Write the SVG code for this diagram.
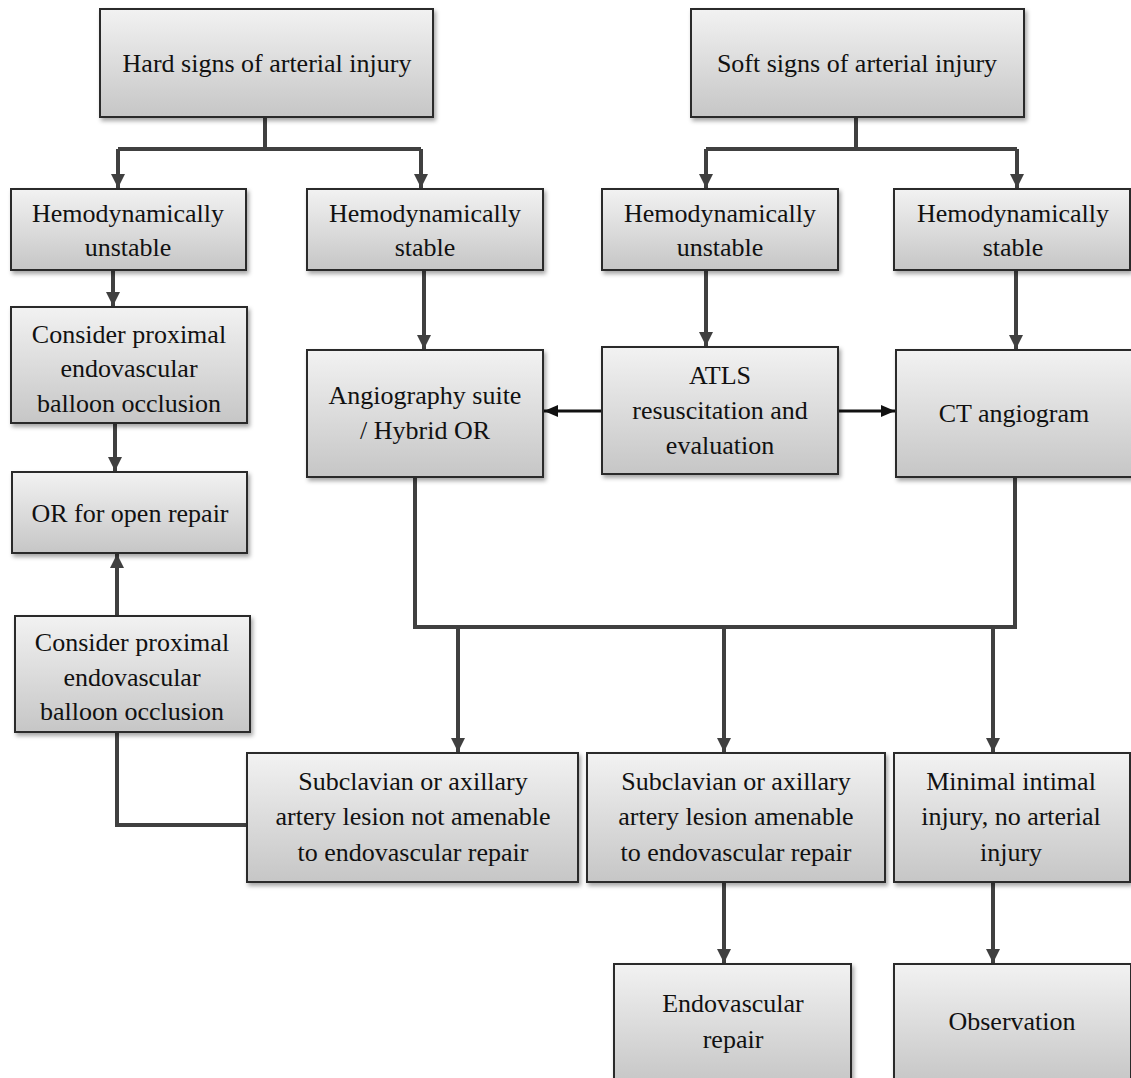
<svg xmlns="http://www.w3.org/2000/svg" width="1131" height="1078" viewBox="0 0 1131 1078">
<style>
.box{fill:url(#g);stroke:#2a2a2a;stroke-width:2;filter:url(#sh)}
.t{font-family:"Liberation Serif","Times New Roman",serif;font-size:26px;fill:#111;text-anchor:middle}
.c{fill:none;stroke:#404040;stroke-width:4}
.k{fill:none;stroke:#111;stroke-width:3}
</style>
<defs>
<linearGradient id="g" x1="0" y1="0" x2="0" y2="1">
<stop offset="0" stop-color="#f2f2f2"/>
<stop offset="1" stop-color="#c6c6c6"/>
</linearGradient>
<filter id="sh" x="-5%" y="-5%" width="115%" height="120%">
<feDropShadow dx="2" dy="3" stdDeviation="2" flood-color="#000" flood-opacity="0.35"/>
</filter>
<marker id="a" markerUnits="userSpaceOnUse" markerWidth="16" markerHeight="16" refX="14" refY="8" orient="auto">
<path d="M0,1 L14,8 L0,15 Z" fill="#404040"/>
</marker>
<marker id="b" markerUnits="userSpaceOnUse" markerWidth="16" markerHeight="16" refX="14" refY="7" orient="auto">
<path d="M0,1 L14,7 L0,13 Z" fill="#111"/>
</marker>
</defs>
<rect width="1131" height="1078" fill="#fff"/>
<g id="connectors">
<path class="c" d="M265,117 V149 M118,149 H421"/>
<path class="c" d="M118,149 V188" marker-end="url(#a)"/>
<path class="c" d="M421,149 V188" marker-end="url(#a)"/>
<path class="c" d="M856,117 V149 M706,149 H1017"/>
<path class="c" d="M706,149 V188" marker-end="url(#a)"/>
<path class="c" d="M1017,149 V188" marker-end="url(#a)"/>
<path class="c" d="M113,270 V306" marker-end="url(#a)"/>
<path class="c" d="M115,423 V471" marker-end="url(#a)"/>
<path class="c" d="M424,270 V349" marker-end="url(#a)"/>
<path class="c" d="M706,270 V346" marker-end="url(#a)"/>
<path class="c" d="M1016,270 V349" marker-end="url(#a)"/>
<path class="k" d="M602,411 H544" marker-end="url(#b)"/>
<path class="k" d="M838,411 H895" marker-end="url(#b)"/>
<path class="c" d="M415,477 V627 H1015 V477"/>
<path class="c" d="M458,627 V752" marker-end="url(#a)"/>
<path class="c" d="M724,627 V752" marker-end="url(#a)"/>
<path class="c" d="M993,627 V752" marker-end="url(#a)"/>
<path class="c" d="M247,825 H117 V732"/>
<path class="c" d="M117,616 V554" marker-end="url(#a)"/>
<path class="c" d="M724,882 V963" marker-end="url(#a)"/>
<path class="c" d="M993,882 V963" marker-end="url(#a)"/>
</g>
<g id="hard"><rect class="box" x="100" y="9" width="333" height="108"/><text class="t" x="267" y="72">Hard signs of arterial injury</text></g>
<g id="soft"><rect class="box" x="691" y="9" width="333" height="108"/><text class="t" x="857" y="72">Soft signs of arterial injury</text></g>
<g id="hu1"><rect class="box" x="11" y="189" width="235" height="81"/><text class="t" x="128" y="222">Hemodynamically</text><text class="t" x="128" y="256">unstable</text></g>
<g id="hs1"><rect class="box" x="307" y="189" width="236" height="81"/><text class="t" x="425" y="222">Hemodynamically</text><text class="t" x="425" y="256">stable</text></g>
<g id="hu2"><rect class="box" x="602" y="189" width="236" height="81"/><text class="t" x="720" y="222">Hemodynamically</text><text class="t" x="720" y="256">unstable</text></g>
<g id="hs2"><rect class="box" x="894" y="189" width="236" height="81"/><text class="t" x="1013" y="222">Hemodynamically</text><text class="t" x="1013" y="256">stable</text></g>
<g id="cpb1"><rect class="box" x="11" y="307" width="236" height="116"/><text class="t" x="129" y="343">Consider proximal</text><text class="t" x="129" y="377">endovascular</text><text class="t" x="129" y="412">balloon occlusion</text></g>
<g id="or"><rect class="box" x="12" y="472" width="235" height="81"/><text class="t" x="130" y="522">OR for open repair</text></g>
<g id="cpb2"><rect class="box" x="15" y="616" width="235" height="116"/><text class="t" x="132" y="651">Consider proximal</text><text class="t" x="132" y="686">endovascular</text><text class="t" x="132" y="720">balloon occlusion</text></g>
<g id="angio"><rect class="box" x="307" y="350" width="236" height="127"/><text class="t" x="425" y="404">Angiography suite</text><text class="t" x="425" y="439">/ Hybrid OR</text></g>
<g id="atls"><rect class="box" x="602" y="347" width="236" height="127"/><text class="t" x="720" y="384">ATLS</text><text class="t" x="720" y="419">resuscitation and</text><text class="t" x="720" y="454">evaluation</text></g>
<g id="ct"><rect class="box" x="896" y="350" width="236" height="127"/><text class="t" x="1014" y="422">CT angiogram</text></g>
<g id="notam"><rect class="box" x="247" y="753" width="331" height="129"/><text class="t" x="413" y="790">Subclavian or axillary</text><text class="t" x="413" y="825">artery lesion not amenable</text><text class="t" x="413" y="861">to endovascular repair</text></g>
<g id="am"><rect class="box" x="587" y="753" width="298" height="129"/><text class="t" x="736" y="790">Subclavian or axillary</text><text class="t" x="736" y="825">artery lesion amenable</text><text class="t" x="736" y="861">to endovascular repair</text></g>
<g id="min"><rect class="box" x="894" y="753" width="236" height="129"/><text class="t" x="1011" y="790">Minimal intimal</text><text class="t" x="1011" y="825">injury, no arterial</text><text class="t" x="1011" y="861">injury</text></g>
<g id="endo"><rect class="box" x="614" y="964" width="237" height="120"/><text class="t" x="733" y="1012">Endovascular</text><text class="t" x="733" y="1048">repair</text></g>
<g id="obs"><rect class="box" x="894" y="964" width="237" height="120"/><text class="t" x="1012" y="1030">Observation</text></g>
</svg>
